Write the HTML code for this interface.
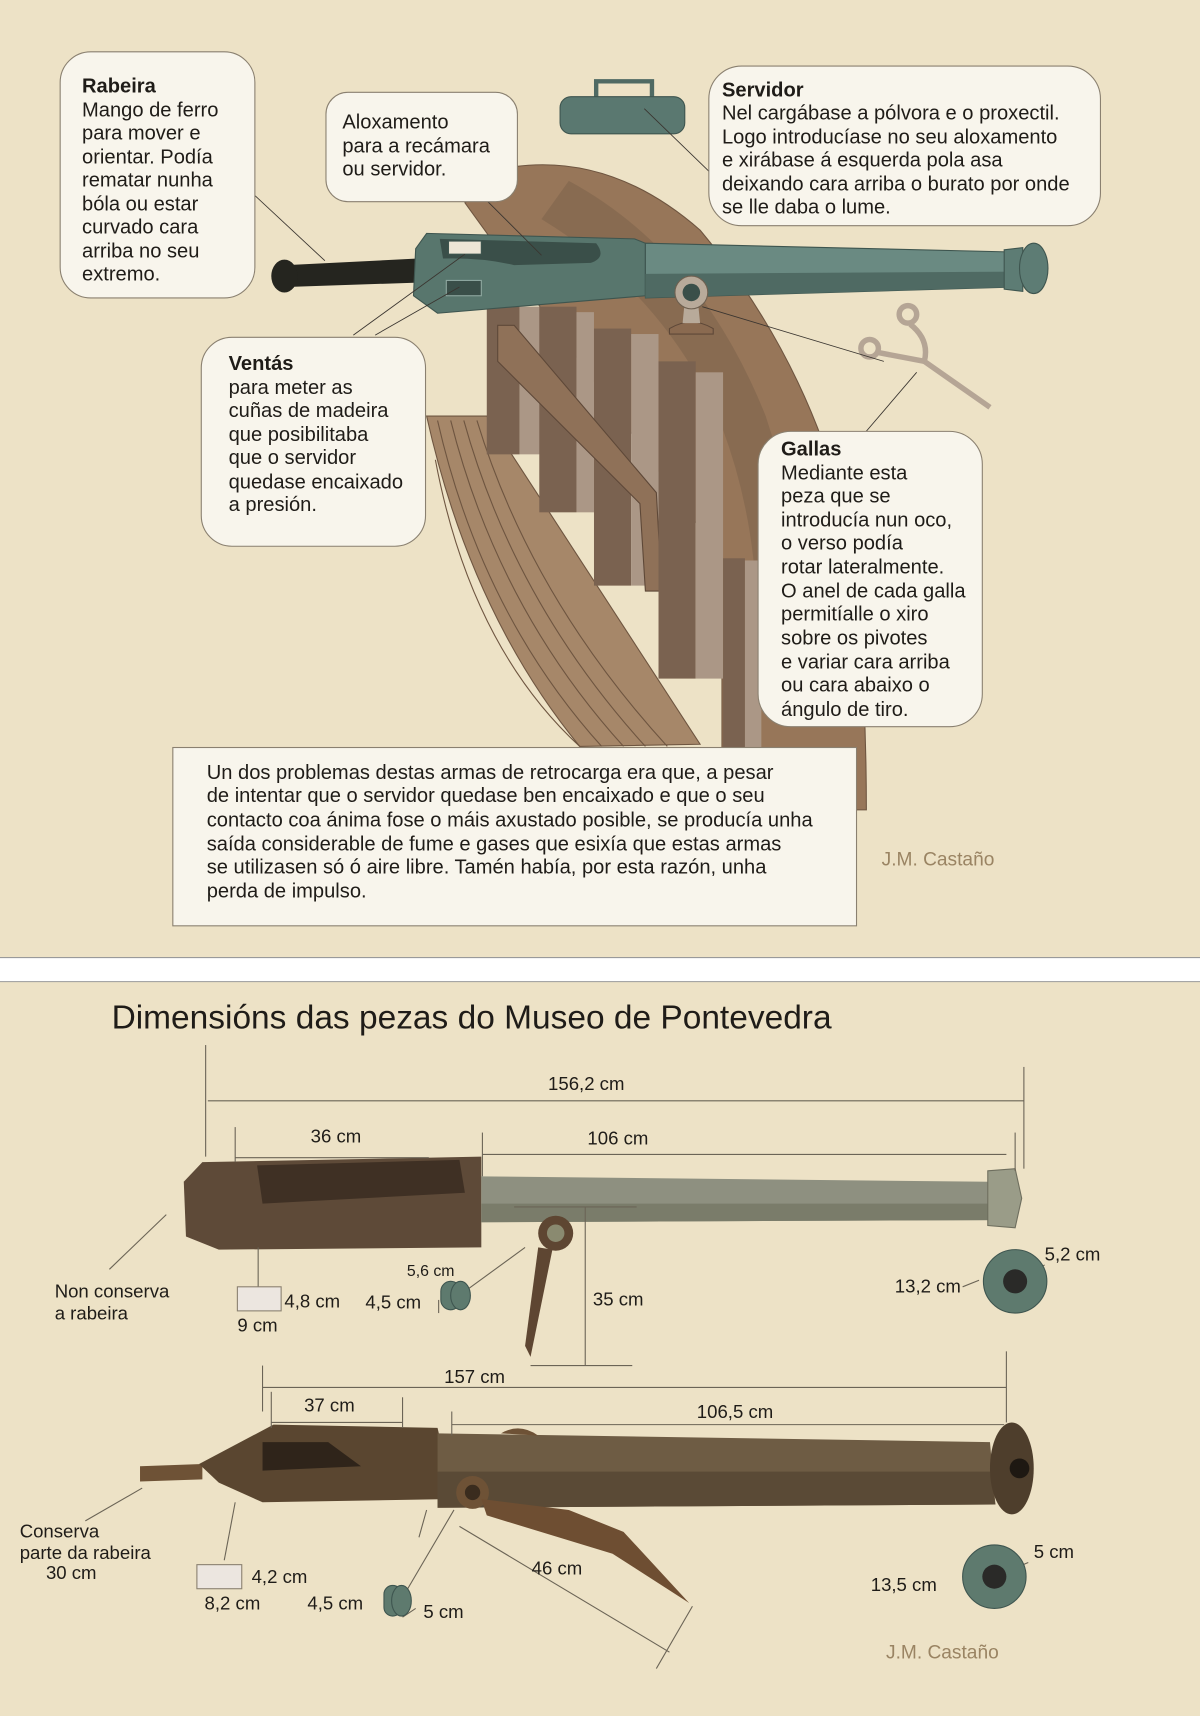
<!DOCTYPE html>
<html><head><meta charset="utf-8"><style>
html,body{margin:0;padding:0;background:#ede2c6}
svg{display:block}
text{font-family:"Liberation Sans",Arial,sans-serif;fill:#1f1c18}
</style></head><body>
<svg width="1200" height="1716" viewBox="0 0 1097 1568" xmlns="http://www.w3.org/2000/svg">
<rect x="0" y="0" width="1097" height="1568" fill="#ede2c6"/>
<rect x="0" y="875" width="1097" height="22" fill="#ffffff"/>
<line x1="0" y1="875" x2="1097" y2="875" stroke="#9a9a9a" stroke-width="1"/>
<line x1="0" y1="897" x2="1097" y2="897" stroke="#9a9a9a" stroke-width="1"/>

<!-- wooden structure -->
<path d="M425,185 L470,152 Q560,140 640,210 Q740,330 775,480 Q792,600 792,740 L660,740 L660,510 Z" fill="#977659" stroke="#6e5540" stroke-width="1"/>
<path d="M520,165 Q640,230 700,380 Q730,470 735,560 L692,560 Q690,470 660,390 Q610,270 495,200 Z" fill="#7f644c" opacity="0.6"/>
<path d="M390,380 L445,380 L640,680 L530,682 Q430,560 390,380 Z" fill="#a68769" stroke="#6e5540" stroke-width="1"/>
<g stroke="#6e5540" stroke-width="1" fill="none">
<path d="M400,384 Q440,560 550,682"/><path d="M412,384 Q455,555 570,682"/><path d="M424,384 Q470,550 590,682"/><path d="M436,384 Q485,545 610,682"/><path d="M398,420 Q430,590 530,682"/>
</g>
<rect x="445" y="280" width="30" height="135" fill="#7a6250"/>
<rect x="475" y="280" width="20" height="135" fill="#ab9786"/>
<rect x="493" y="280" width="34" height="188" fill="#7a6250"/>
<rect x="527" y="285" width="16" height="183" fill="#ab9786"/>
<rect x="543" y="300" width="34" height="235" fill="#7a6250"/>
<rect x="577" y="305" width="25" height="230" fill="#ab9786"/>
<path d="M455,297 L470,297 L600,450 L605,540 L590,540 L585,460 L455,330 Z" fill="#8f7158" stroke="#5e4838" stroke-width="1"/>
<rect x="602" y="330" width="34" height="290" fill="#7a6250"/>
<rect x="636" y="340" width="25" height="280" fill="#ab9786"/>
<rect x="661" y="510" width="20" height="230" fill="#7a6250"/>
<rect x="681" y="512" width="15" height="228" fill="#ab9786"/>

<!-- cannon top -->
<path d="M262,242 L382,236 L382,258 L262,262 Z" fill="#25251f"/>
<ellipse cx="260" cy="252" rx="12" ry="15" fill="#25251f"/>
<path d="M380,227 L390,213 L580,218 L590,222 L590,270 L400,286 L378,270 Z" fill="#58766d" stroke="#3e554f" stroke-width="1"/>
<path d="M402,218 L545,222 Q555,235 540,240 L470,242 Q440,235 405,236 Z" fill="#3a4f49"/>
<rect x="410" y="220" width="30" height="12" fill="#ede6d6" stroke="#3e554f"/>
<rect x="408" y="256" width="32" height="14" fill="#3a4f49" stroke="#8fa8a0"/>
<path d="M590,222 L925,230 L930,262 L590,272 Z" fill="#6a8a82" stroke="#3e554f" stroke-width="1"/>
<path d="M590,250 L930,248 L930,262 L590,272 Z" fill="#4f6a63"/>
<path d="M918,228 L935,226 L935,266 L918,264 Z" fill="#5d7c74" stroke="#3e554f"/>
<ellipse cx="945" cy="245" rx="13" ry="23" fill="#5d7c74" stroke="#3e554f"/>
<path d="M612,300 Q632,288 652,300 L652,305 L612,305 Z" fill="#8a6a50" stroke="#5e4838"/>
<path d="M626,275 L638,275 L640,295 L624,295 Z" fill="#b8aa9a"/>
<circle cx="632" cy="267" r="15" fill="#b8aa9a" stroke="#6e6050"/>
<circle cx="632" cy="267" r="8" fill="#3a4f49"/>
<!-- gallas tool -->
<g fill="none" stroke="#b5a595" stroke-width="5">
<circle cx="830" cy="287" r="8"/><circle cx="795" cy="318" r="8"/>
<path d="M832,296 Q850,310 845,330 L905,372"/><path d="M803,322 L845,330"/>
</g>
<!-- servidor -->
<path d="M545,88 L545,74 L596,74 L596,88" fill="none" stroke="#4f6a63" stroke-width="4"/>
<rect x="512" y="88" width="114" height="34" rx="10" fill="#5a7870" stroke="#3e554f"/>

<!-- leader lines -->
<g stroke="#3a3530" stroke-width="0.8" fill="none">
<line x1="224" y1="170" x2="297" y2="238"/>
<line x1="446" y1="184" x2="495" y2="233"/>
<line x1="589" y1="99" x2="652" y2="160"/>
<line x1="323" y1="306" x2="425" y2="232"/>
<line x1="343" y1="306" x2="420" y2="262"/>
<line x1="642" y1="280" x2="808" y2="330"/>
<line x1="785" y1="402" x2="838" y2="340"/>
</g>

<!-- callout boxes -->
<g fill="#f8f5ec" stroke="#8a8070" stroke-width="1">
<rect x="55" y="47" width="178" height="225" rx="28"/>
<rect x="298" y="84" width="175" height="100" rx="20"/>
<rect x="648" y="60" width="358" height="146" rx="30"/>
<rect x="184" y="308" width="205" height="191" rx="28"/>
<rect x="693" y="394" width="205" height="270" rx="30"/>
<rect x="158" y="683" width="625" height="163" rx="0"/>
</g>
<g font-size="18.4">
<text x="75" y="84" font-weight="bold">Rabeira</text>
<text x="75" y="106">Mango de ferro</text>
<text x="75" y="127">para mover e</text>
<text x="75" y="149">orientar. Podía</text>
<text x="75" y="170">rematar nunha</text>
<text x="75" y="192">bóla ou estar</text>
<text x="75" y="213">curvado cara</text>
<text x="75" y="235">arriba no seu</text>
<text x="75" y="256">extremo.</text>

<text x="313" y="117">Aloxamento</text>
<text x="313" y="139">para a recámara</text>
<text x="313" y="160">ou servidor.</text>

<text x="660" y="88" font-weight="bold">Servidor</text>
<text x="660" y="109">Nel cargábase a pólvora e o proxectil.</text>
<text x="660" y="131">Logo introducíase no seu aloxamento</text>
<text x="660" y="152">e xirábase á esquerda pola asa</text>
<text x="660" y="174">deixando cara arriba o burato por onde</text>
<text x="660" y="195">se lle daba o lume.</text>

<text x="209" y="338" font-weight="bold">Ventás</text>
<text x="209" y="360">para meter as</text>
<text x="209" y="381">cuñas de madeira</text>
<text x="209" y="403">que posibilitaba</text>
<text x="209" y="424">que o servidor</text>
<text x="209" y="446">quedase encaixado</text>
<text x="209" y="467"> a presión.</text>

<text x="714" y="416" font-weight="bold">Gallas</text>
<text x="714" y="438">Mediante esta</text>
<text x="714" y="459">peza que se</text>
<text x="714" y="481">introducía nun oco,</text>
<text x="714" y="502">o verso podía</text>
<text x="714" y="524">rotar lateralmente.</text>
<text x="714" y="546">O anel de cada galla</text>
<text x="714" y="567">permitíalle  o xiro</text>
<text x="714" y="589">sobre os pivotes</text>
<text x="714" y="611">e variar cara arriba</text>
<text x="714" y="632">ou cara abaixo o</text>
<text x="714" y="654">ángulo de tiro.</text>

<text x="189" y="712">Un dos problemas destas armas de retrocarga era que, a pesar</text>
<text x="189" y="733">de intentar que o servidor quedase ben encaixado e que o seu</text>
<text x="189" y="755">contacto coa ánima fose o máis axustado posible, se producía unha</text>
<text x="189" y="777">saída considerable de fume e gases que esixía que estas armas</text>
<text x="189" y="798">se utilizasen só ó aire libre. Tamén había, por esta razón, unha</text>
<text x="189" y="820">perda de impulso.</text>
</g>
<text x="806" y="791" font-size="17.5" style="fill:#9a8463">J.M. Castaño</text>

<!-- bottom section -->
<text x="102" y="940" font-size="30.6">Dimensións das pezas do Museo de Pontevedra</text>

<!-- cannon 1 -->
<path d="M185,1062 L440,1057 L440,1140 L200,1142 L170,1130 L168,1080 Z" fill="#5e4a38"/>
<path d="M235,1065 L420,1060 L425,1090 L240,1100 Z" fill="#3f3024"/>
<path d="M440,1075 L905,1080 L905,1115 L440,1117 Z" fill="#8e9080"/>
<path d="M440,1100 L905,1100 L905,1115 L440,1117 Z" fill="#7a7c6a"/>
<path d="M903,1070 L928,1068 L934,1095 L928,1122 L903,1120 Z" fill="#9a9c88" stroke="#6e6e5e"/>
<circle cx="508" cy="1127" r="16" fill="#5e4632"/><circle cx="508" cy="1127" r="8" fill="#8a8a70"/>
<path d="M492,1140 L505,1142 L485,1240 L480,1230 Z" fill="#5e4632"/>

<!-- cannon 2 -->
<path d="M128,1340 L185,1338 L185,1352 L128,1354 Z" fill="#6e5236"/>
<path d="M182,1338 L250,1302 L400,1305 L415,1370 L240,1373 L200,1355 Z" fill="#5a4630"/>
<path d="M240,1318 L300,1318 L330,1340 L240,1344 Z" fill="#2f241a"/>
<path d="M400,1310 L905,1318 L910,1375 L400,1378 Z" fill="#6e5c44"/>
<path d="M400,1345 L905,1345 L910,1375 L400,1378 Z" fill="#5a4a36"/>
<ellipse cx="925" cy="1342" rx="20" ry="42" fill="#4e3e2c"/>
<circle cx="932" cy="1342" r="9" fill="#1e1812"/>
<circle cx="432" cy="1364" r="15" fill="#6e5236"/><circle cx="432" cy="1364" r="7" fill="#3a2c1e"/>
<path d="M440,1370 L520,1380 L570,1400 L630,1465 L560,1420 L445,1385 Z" fill="#6e4e32"/>
<path d="M458,1310 Q475,1300 492,1312 Z" fill="#6e5236"/>

<!-- dimension lines -->
<g stroke="#6b6456" stroke-width="1" fill="none">
<line x1="188" y1="955" x2="188" y2="1057"/>
<line x1="190" y1="1006" x2="936" y2="1006"/>
<line x1="936" y1="975" x2="936" y2="1068"/>
<line x1="215" y1="1030" x2="215" y2="1062"/>
<line x1="215" y1="1058" x2="392" y2="1058"/>
<line x1="441" y1="1035" x2="441" y2="1075"/>
<line x1="441" y1="1055" x2="920" y2="1055"/>
<line x1="928" y1="1035" x2="928" y2="1070"/>
<line x1="470" y1="1103" x2="582" y2="1103"/>
<line x1="535" y1="1103" x2="535" y2="1248"/>
<line x1="485" y1="1248" x2="578" y2="1248"/>
<line x1="152" y1="1110" x2="100" y2="1160"/>
<line x1="236" y1="1140" x2="236" y2="1176"/>
<line x1="428" y1="1178" x2="480" y2="1140"/>
<line x1="240" y1="1248" x2="240" y2="1290"/>
<line x1="240" y1="1268" x2="920" y2="1268"/>
<line x1="920" y1="1235" x2="920" y2="1300"/>
<line x1="248" y1="1272" x2="248" y2="1305"/>
<line x1="248" y1="1300" x2="368" y2="1300"/>
<line x1="368" y1="1277" x2="368" y2="1305"/>
<line x1="413" y1="1290" x2="413" y2="1312"/>
<line x1="413" y1="1302" x2="918" y2="1302"/>
<line x1="420" y1="1395" x2="612" y2="1510"/>
<line x1="633" y1="1468" x2="600" y2="1525"/>
<line x1="390" y1="1380" x2="383" y2="1405"/>
<line x1="130" y1="1360" x2="78" y2="1390"/>
<line x1="215" y1="1373" x2="205" y2="1426"/>
<line x1="368" y1="1460" x2="415" y2="1380"/>
<line x1="880" y1="1176" x2="895" y2="1170"/>
<line x1="928" y1="1171" x2="955" y2="1156"/>
<line x1="880" y1="1446" x2="895" y2="1440"/>
<line x1="909" y1="1441" x2="940" y2="1428"/>
<line x1="368" y1="1478" x2="380" y2="1470"/>
<line x1="401" y1="1188" x2="401" y2="1200"/>
</g>
<rect x="217" y="1176" width="40" height="22" fill="#ece6e0" stroke="#8a8070"/>
<rect x="180" y="1430" width="41" height="22" fill="#ece6e0" stroke="#8a8070"/>
<g fill="#5e7a6e" stroke="#3e554f">
<rect x="403" y="1171" width="18" height="26" rx="9"/><ellipse cx="421" cy="1184" rx="9" ry="13"/>
<rect x="351" y="1449" width="16" height="28" rx="8"/><ellipse cx="367" cy="1463" rx="9" ry="14"/>
<circle cx="928" cy="1171" r="29"/><circle cx="909" cy="1441" r="29"/>
</g>
<circle cx="928" cy="1171" r="11" fill="#2a2a28"/>
<circle cx="909" cy="1441" r="11" fill="#2a2a28"/>

<g font-size="17">
<text x="501" y="996">156,2 cm</text>
<text x="284" y="1044">36 cm</text>
<text x="537" y="1046">106 cm</text>
<text x="50" y="1186">Non conserva</text>
<text x="50" y="1206">a rabeira</text>
<text x="260" y="1195">4,8 cm</text>
<text x="217" y="1217">9 cm</text>
<text x="372" y="1166" font-size="14.5">5,6 cm</text>
<text x="334" y="1196">4,5 cm</text>
<text x="542" y="1193">35 cm</text>
<text x="818" y="1181">13,2 cm</text>
<text x="955" y="1152">5,2 cm</text>
<text x="406" y="1264">157 cm</text>
<text x="278" y="1290">37 cm</text>
<text x="637" y="1296">106,5 cm</text>
<text x="18" y="1405">Conserva</text>
<text x="18" y="1425">parte da rabeira</text>
<text x="42" y="1443">30 cm</text>
<text x="230" y="1447">4,2 cm</text>
<text x="187" y="1471">8,2 cm</text>
<text x="281" y="1471">4,5 cm</text>
<text x="387" y="1479">5 cm</text>
<text x="486" y="1439">46 cm</text>
<text x="796" y="1454">13,5 cm</text>
<text x="945" y="1424">5 cm</text>
</g>
<text x="810" y="1516" font-size="17.5" style="fill:#9a8463">J.M. Castaño</text>
</svg>
</body></html>
